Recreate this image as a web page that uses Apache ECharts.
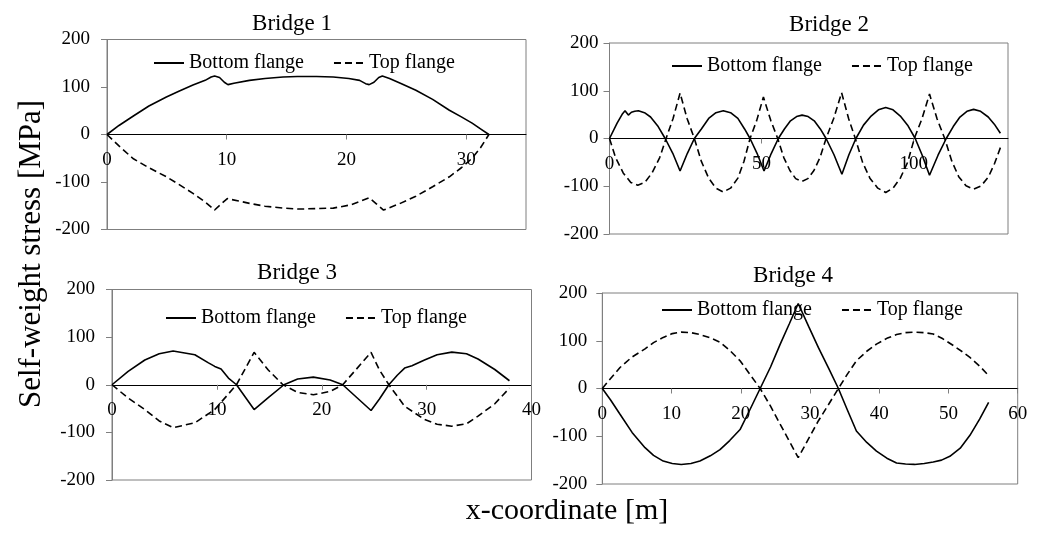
<!DOCTYPE html>
<html>
<head>
<meta charset="utf-8">
<script src="https://cdn.jsdelivr.net/npm/echarts@6/dist/echarts.min.js"></script>
<style>
html,body{margin:0;padding:0;background:#fff;}
#chart{width:1051px;height:534px;}
</style>
</head>
<body>
<div id="chart"></div>
<script>
// ---------- data (x [m], stress [MPa]) ----------
const titles = ['Bridge 1', 'Bridge 2', 'Bridge 3', 'Bridge 4'];
const seriesNames = ['Bottom flange', 'Top flange'];
const yTicks = [-200, -100, 0, 100, 200];
const xMax = [35, 131, 40, 60];
const xInterval = [10, 50, 10, 10];

const b1Bottom = [[0,0],[1,19],[2.17,38.5],[3.5,60],[4.96,79],[6,91],[7.18,104],[8.2,114],[8.7,121],[8.99,123],[9.4,120],[9.8,110],[10.1,105],[10.6,108],[11.9,114],[13.2,118],[14.7,121],[15.9,122],[17.5,122],[18.9,121],[20.2,118],[21.1,114],[21.6,107],[21.9,105],[22.3,110],[22.7,120],[23.0,123],[23.6,118],[24.6,107],[25.8,93],[27.2,74],[28.6,51],[29.6,37],[30.5,24],[31.2,12],[31.9,0]];
const b1Top = [[0,0],[1,-24],[2.17,-50.5],[3.5,-70],[4.96,-89],[6,-105],[7.18,-124],[8.2,-142],[8.99,-159],[9.5,-147],[10.05,-135],[11,-140],[11.9,-145],[13.2,-151],[14.7,-155],[16,-157],[17.5,-156],[18.9,-155],[20.4,-148],[21.9,-133],[22.5,-146],[23.1,-159],[24.5,-145],[25.8,-130],[27.2,-110],[28.6,-89],[29.6,-70],[30.5,-50],[31.2,-28],[31.9,0]];

const b2Bottom = [[0,0],[2.5,32],[4.3,52],[5.1,58],[5.6,55],[6.2,49],[7.2,55],[8.3,57],[9.5,58],[11.5,54],[13.5,45],[16,25],[18.3,0],[20.8,-31],[23.2,-68],[25.6,-31],[27.9,0],[30.2,20],[32.6,42],[35,54],[37.4,58],[39.8,54],[42.2,42],[44.4,20],[46.2,0],[48.5,-31],[50.8,-68],[53.2,-31],[55.5,0],[57.5,20],[59.5,37],[61.5,46],[63.3,49],[65.3,46],[67.3,37],[69.3,20],[71.2,0],[73.8,-34],[76.4,-75],[78.7,-34],[81.0,0],[83.5,28],[86,47],[88.4,60],[90.8,65],[93.2,60],[95.6,47],[98,28],[100.5,0],[102.8,-35],[105.2,-77],[108,-35],[110.7,0],[113,25],[115.2,45],[117.5,57],[119.7,61],[122,57],[124.5,45],[126.5,30],[128.5,11]];
const b2Top = [[0,0],[2,-40],[4.5,-72],[7,-92],[9.3,-98],[11.6,-92],[14,-72],[16.5,-40],[18.6,0],[20.9,42],[23.2,95],[25.5,42],[27.9,0],[30.2,-48],[32.6,-83],[35,-104],[37.4,-112],[39.8,-104],[42.2,-83],[44.2,-48],[46.2,0],[48.4,38],[50.6,87],[53,38],[55.3,0],[57.3,-40],[59.3,-67],[61.2,-84],[63.2,-90],[65.2,-84],[67.2,-67],[69.2,-40],[71.2,0],[73.7,42],[76.3,96],[78.6,42],[80.8,0],[83.2,-50],[85.6,-83],[88.2,-104],[90.8,-113],[93.2,-104],[95.6,-83],[98,-50],[100.2,0],[102.7,41],[105.2,93],[107.7,41],[110.2,0],[112.5,-47],[114.8,-80],[117.2,-99],[119.7,-106],[122.2,-99],[124.6,-80],[126.6,-52],[128.5,-19]];

const b3Bottom = [[0,0],[1.54,28],[3.13,52],[4.5,65],[5.83,71],[7.9,63],[9.2,46],[9.8,38.5],[10.4,33],[11.1,14],[11.87,0],[13.55,-52],[14.9,-27],[16.4,0],[17.7,12],[19.2,16],[20.8,10],[22.0,0],[24.7,-54],[25.5,-30],[26.4,0],[27.2,20],[27.9,35],[28.6,40],[29.8,52],[31,63],[32.4,68.5],[33.8,65],[34.9,54],[36.5,32],[37.9,8.4]];
const b3Top = [[0,0],[1.54,-28],[3.13,-52],[4.5,-76],[5.83,-90],[7.9,-80],[9.8,-52],[11.87,0],[13.55,68],[14.9,31],[16.3,0],[17.7,-16],[19.2,-21],[20.8,-14],[22.0,0],[24.7,68],[25.5,31],[26.4,0],[27.9,-45],[29.8,-73],[31,-83],[32.4,-87],[33.8,-82],[34.9,-66],[36.5,-40],[37.9,-7]];

const b4Bottom = [[0,0],[1.2,-24],[2.56,-54],[4.3,-92],[6.17,-124],[7.4,-140],[8.8,-152],[10.1,-157],[11.4,-159],[12.8,-157],[14.1,-152],[15.6,-141],[17.0,-128],[18.4,-109],[19.9,-86],[21.3,-45],[22.8,0],[24.3,45],[25.7,93],[27.0,135],[28.3,178],[29.8,130],[31.2,86],[32.7,42],[34.1,0],[35.4,-45],[36.7,-89],[38.2,-113],[39.6,-131],[41.1,-146],[42.5,-156],[43.8,-158],[45.1,-159],[46.5,-157],[47.8,-154],[49,-150],[50.2,-142],[51.7,-125],[53.1,-98],[54.5,-64],[55.8,-29]];
const b4Top = [[0,0],[1.2,21],[2.56,44],[4.3,66],[6.17,83],[7.4,96],[8.8,107],[10.1,115],[11.4,118],[12.8,117],[14.1,113],[15.6,106],[17.0,97],[18.4,80],[19.9,58],[21.3,30],[22.8,0],[24.3,-37],[25.7,-75],[27,-110],[28.3,-145],[29.8,-105],[31.2,-68],[32.7,-33],[34.1,0],[35.4,30],[36.7,58],[38.2,78],[39.6,93],[41.1,105],[42.5,113],[43.8,117],[45.1,118],[46.5,117],[47.8,114],[49.2,104],[50.7,90],[51.9,78],[53.1,65],[54.5,47],[55.8,27]];

const bottomData = [b1Bottom, b2Bottom, b3Bottom, b4Bottom];
const topData = [b1Top, b2Top, b3Top, b4Top];

// ---------- layout ----------
const FONT = 'Liberation Serif';
const grids = [
  {left: 107, top: 39.5, width: 419, height: 190},
  {left: 609.5, top: 43, width: 398.5, height: 191},
  {left: 112, top: 289.5, width: 419.5, height: 190.5},
  {left: 602.3, top: 293, width: 415.4, height: 191}
];
const titlePos = [[292, 12], [829, 13], [297, 261], [793, 264]];
const legendPos = [[153, 53], [671, 56], [165, 308], [661, 300]];
const yLabelMargin = [17, 11, 17, 15];

const option = {
  backgroundColor: '#fff',
  animation: false,
  title: titles.map((t, i) => ({
    text: t, left: titlePos[i][0], top: titlePos[i][1], textAlign: 'center', padding: 0,
    textStyle: {fontFamily: FONT, fontSize: 23, fontWeight: 'normal', color: '#000'}
  })),
  legend: grids.map((g, i) => ({
    data: seriesNames, left: legendPos[i][0], top: legendPos[i][1], padding: 0,
    itemWidth: 30, itemHeight: 14, itemGap: 29, selectedMode: false,
    itemStyle: {opacity: 0},
    textStyle: {fontFamily: FONT, fontSize: 20, color: '#000'}
  })),
  grid: grids.map(g => Object.assign({show: true, borderColor: '#7f7f7f', borderWidth: 1, containLabel: false, outerBoundsMode: 'none'}, g)),
  xAxis: grids.map((g, i) => ({
    type: 'value', gridIndex: i, min: 0, max: xMax[i], interval: xInterval[i],
    position: 'bottom', offset: -g.height / 2,
    axisLine: {show: true, onZero: false, lineStyle: {color: '#000', width: 1}},
    axisTick: {show: true, length: 5, lineStyle: {color: '#7f7f7f'}},
    axisLabel: {show: true, margin: 16, showMaxLabel: (xMax[i] % xInterval[i] === 0), fontFamily: FONT, fontSize: 19, color: '#000'},
    splitLine: {show: false}
  })),
  yAxis: grids.map((g, i) => ({
    type: 'value', gridIndex: i, min: yTicks[0], max: yTicks[yTicks.length - 1], interval: 100,
    axisLine: {show: true, onZero: false, lineStyle: {color: '#7f7f7f', width: 1}},
    axisTick: {show: true, length: 6, lineStyle: {color: '#7f7f7f'}},
    axisLabel: {margin: yLabelMargin[i], fontFamily: FONT, fontSize: 19, color: '#000'},
    splitLine: {show: false}
  })),
  graphic: [
    {type: 'text', x: 32, y: 254, rotation: Math.PI / 2,
     style: {text: 'Self-weight stress [MPa]', font: '31px "Liberation Serif"', fill: '#000', textAlign: 'center', textVerticalAlign: 'middle'}},
    {type: 'text', x: 567, y: 511,
     style: {text: 'x-coordinate [m]', font: '30px "Liberation Serif"', fill: '#000', textAlign: 'center', textVerticalAlign: 'middle'}}
  ],
  series: []
};

for (let i = 0; i < 4; i++) {
  option.series.push({
    name: seriesNames[0], type: 'line', xAxisIndex: i, yAxisIndex: i, data: bottomData[i],
    symbol: 'none', smooth: false, lineStyle: {color: '#000', width: 1.6, type: 'solid'}, itemStyle: {color: '#000'}
  });
  option.series.push({
    name: seriesNames[1], type: 'line', xAxisIndex: i, yAxisIndex: i, data: topData[i],
    symbol: 'none', smooth: false, lineStyle: {color: '#000', width: 1.6, type: [7, 4]}, itemStyle: {color: '#000'}
  });
}

const chart = echarts.init(document.getElementById('chart'), null, {renderer: 'canvas'});
chart.setOption(option);
</script>
</body>
</html>
